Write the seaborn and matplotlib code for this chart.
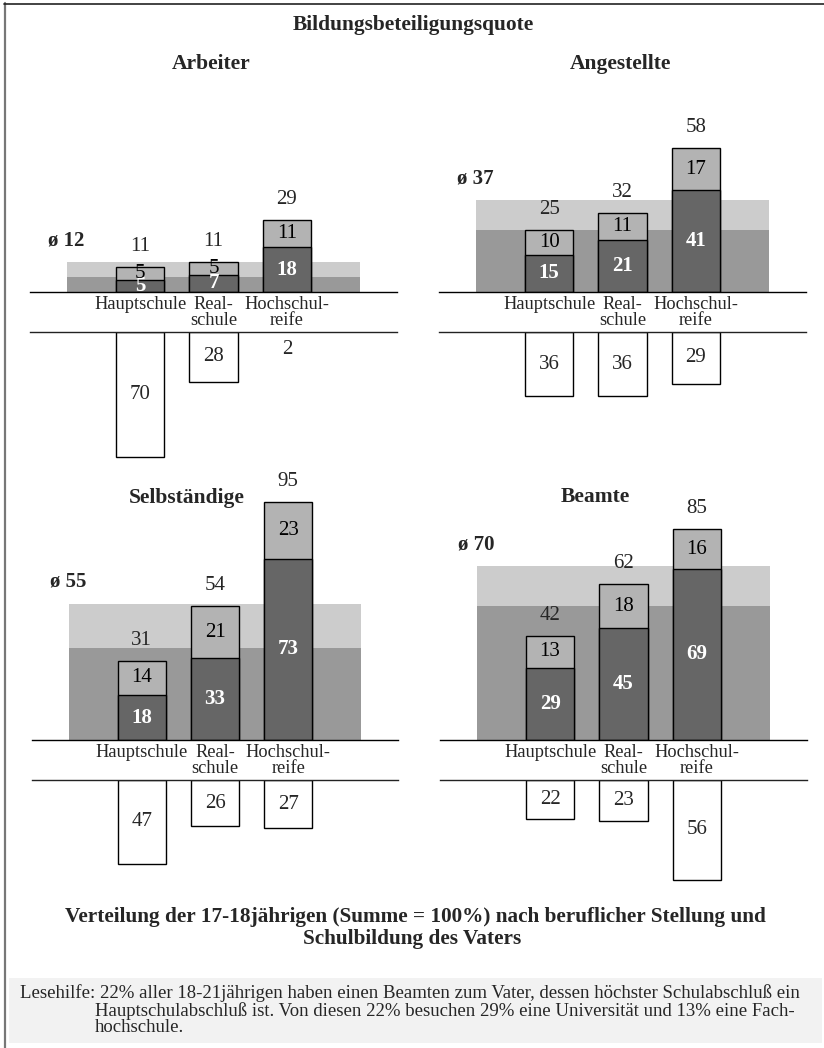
import matplotlib
matplotlib.use("Agg")
import matplotlib.pyplot as plt
from matplotlib.lines import Line2D
from matplotlib.patches import Rectangle
import seaborn as sns

# Daten
groups = ["Arbeiter", "Angestellte", "Selbständige", "Beamte"]
schools = ["Hauptschule", "Real-\nschule", "Hochschul-\nreife"]
uni_quote = [[5, 7, 18], [15, 21, 41], [18, 33, 73], [29, 45, 69]]
fh_quote = [[5, 5, 11], [10, 11, 17], [14, 21, 23], [13, 18, 16]]
total_quote = [[11, 11, 29], [25, 32, 58], [31, 54, 95], [42, 62, 85]]
avg_quote = [12, 37, 55, 70]
avg_uni_quote = [6, 25, 37, 54]
share = [[70, 28, 2], [36, 36, 29], [47, 26, 27], [22, 23, 56]]

W, H = 824, 1048
DARK, LIGHT = "#666666", "#b3b3b3"
BAND_DARK, BAND_LIGHT = "#999999", "#cccccc"
UP_SCALE, DN_SCALE = 2.48, 1.78  # Pixel pro Prozentpunkt
BAR_W = 0.654
NUM_FS = 15

# Panel-Layout in Pixeln: x0, x1, Grundlinie, zweite Linie, Titelposition
panels = [
    (30, 397, 292, 332, (211, 64)),
    (439, 806, 292, 332, (620, 64)),
    (32, 398, 740, 780, (187, 498)),
    (440, 807, 740, 780, (595, 497)),
]

sns.set_style("white")
plt.rcParams["font.family"] = ["Liberation Serif", "DejaVu Serif"]

fig = plt.figure(figsize=(W / 100, H / 100), dpi=100)


def draw_panel(i):
    x0, x1, base, line2, (tx, ty) = panels[i]
    hu, hd = 240, 130
    ax = fig.add_axes([x0 / W, 1 - base / H, (x1 - x0) / W, hu / H])
    axd = fig.add_axes([x0 / W, 1 - (line2 + hd) / H, (x1 - x0) / W, hd / H])

    uni = uni_quote[i]
    fh = fh_quote[i]
    stacked = [u + f for u, f in zip(uni, fh)]

    # Hintergrundband: Durchschnitt Uni (dunkel) und Uni+FH (hell)
    ax.fill_between([-1, 3], 0, avg_uni_quote[i], color=BAND_DARK, lw=0, zorder=0)
    ax.fill_between([-1, 3], avg_uni_quote[i], avg_quote[i], color=BAND_LIGHT, lw=0, zorder=0)

    sns.barplot(x=schools, y=stacked, color=LIGHT, saturation=1, width=BAR_W,
                edgecolor="black", linewidth=1, errorbar=None, ax=ax)
    sns.barplot(x=schools, y=uni, color=DARK, saturation=1, width=BAR_W,
                edgecolor="black", linewidth=1, errorbar=None, ax=ax)

    for j in range(3):
        ax.text(j, uni[j] / 2, str(uni[j]), ha="center", va="center",
                color="white", fontsize=NUM_FS, fontweight="bold")
        ax.text(j, uni[j] + fh[j] / 2, str(fh[j]), ha="center", va="center",
                color="black", fontsize=NUM_FS)
        ax.annotate(str(total_quote[i][j]), (j, stacked[j]), xytext=(0, 16),
                    textcoords="offset pixels", ha="center", va="baseline",
                    fontsize=NUM_FS)

    ax.annotate(f"ø {avg_quote[i]}", (-1.25, avg_quote[i]), xytext=(0, 22),
                textcoords="offset pixels", ha="left", va="center",
                fontsize=15, fontweight="bold")

    ax.set_xlim(-1.5, 3.5)
    ax.set_ylim(0, hu / UP_SCALE)
    ax.set_xticks([0, 1, 2], schools, fontsize=13.2)
    ax.set_yticks([])
    ax.tick_params(axis="x", length=0, pad=3)
    for lab in ax.get_xticklabels():
        lab.set_linespacing(0.88)
    ax.set_xlabel("")
    ax.set_ylabel("")
    for s in ["top", "left", "right"]:
        ax.spines[s].set_visible(False)
    ax.spines["bottom"].set_color("black")
    ax.spines["bottom"].set_linewidth(1)
    ax.patch.set_alpha(0)

    # Verteilung nach unten
    sns.barplot(x=schools, y=share[i], color="white", saturation=1, width=BAR_W,
                edgecolor="black", linewidth=1, errorbar=None, ax=axd)
    for p in axd.patches:
        if p.get_height() < 3:
            p.set_visible(False)
    for j in range(3):
        axd.text(j, max(share[i][j] / 2, 10), str(share[i][j]), ha="center",
                 va="center", fontsize=NUM_FS)
    axd.set_xlim(-1.5, 3.5)
    axd.set_ylim(hd / DN_SCALE, 0)
    axd.set_xticks([])
    axd.set_yticks([])
    axd.set_xlabel("")
    axd.set_ylabel("")
    for s in ["bottom", "left", "right"]:
        axd.spines[s].set_visible(False)
    axd.spines["top"].set_color("#222222")
    axd.spines["top"].set_linewidth(1)
    axd.patch.set_alpha(0)

    fig.text(tx / W, 1 - ty / H, groups[i], ha="center", va="center",
             fontsize=15.5, fontweight="bold")


for i in range(len(groups)):
    draw_panel(i)

fig.text(413 / W, 1 - 25 / H, "Bildungsbeteiligungsquote", ha="center",
         va="center", fontsize=15.4, fontweight="bold")

fig.text(415 / W, 1 - 917 / H,
         "Verteilung der 17-18jährigen (Summe = 100%) nach beruflicher Stellung und",
         ha="center", va="center", fontsize=15.3, fontweight="bold")
fig.text(412 / W, 1 - 939 / H, "Schulbildung des Vaters",
         ha="center", va="center", fontsize=15.3, fontweight="bold")

# Lesehilfe-Kasten
fig.patches.append(Rectangle((9 / W, 1 - 1043 / H), (822 - 9) / W, (1043 - 978) / H,
                             transform=fig.transFigure, facecolor="#f2f2f2",
                             edgecolor="none", zorder=0))
fig.text(20 / W, 1 - 993 / H,
         "Lesehilfe: 22% aller 18-21jährigen haben einen Beamten zum Vater, "
         "dessen höchster Schulabschluß ein",
         ha="left", va="center", fontsize=13.5)
fig.text(95 / W, 1 - 1011 / H,
         "Hauptschulabschluß ist. Von diesen 22% besuchen 29% eine Universität "
         "und 13% eine Fach-",
         ha="left", va="center", fontsize=13.5)
fig.text(95 / W, 1 - 1028 / H, "hochschule.", ha="left", va="center", fontsize=13.5)

# Rahmen links und oben
fig.add_artist(Line2D([4.5 / W, 4.5 / W], [0, 1 - 3 / H], color="#777777", lw=1.6,
                      transform=fig.transFigure))
fig.add_artist(Line2D([4 / W, 1], [1 - 3.5 / H, 1 - 3.5 / H], color="#222222", lw=1.2,
                      transform=fig.transFigure))

fig.savefig("out.png", dpi=100)
